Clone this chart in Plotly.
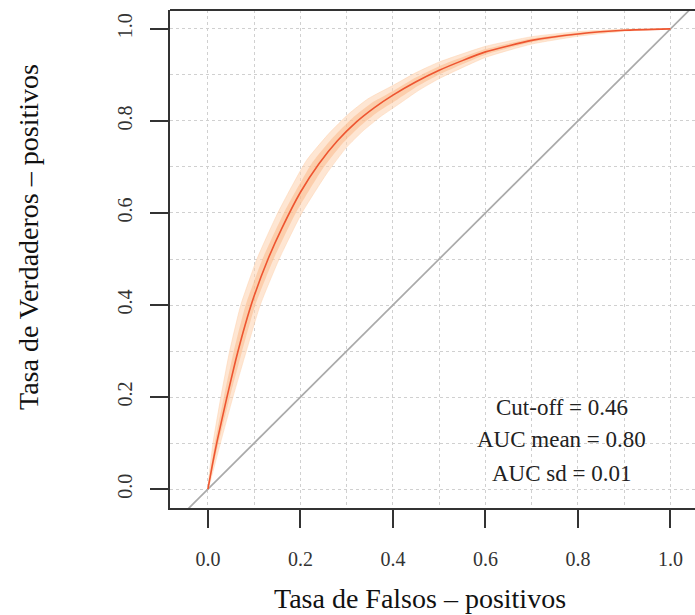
import plotly.graph_objects as go

# Mean ROC curve
mean_fpr = [0, 0.01, 0.02, 0.04, 0.06, 0.08, 0.10, 0.13, 0.16, 0.20, 0.24, 0.28, 0.32, 0.36, 0.40,
            0.45, 0.50, 0.55, 0.60, 0.70, 0.80, 0.90, 1.0]
mean_tpr = [0, 0.055, 0.105, 0.195, 0.280, 0.355, 0.420, 0.500, 0.567, 0.645, 0.707, 0.757, 0.797, 0.829, 0.856,
            0.885, 0.910, 0.931, 0.950, 0.975, 0.989, 0.997, 1.0]

# Bootstrap envelope: upper-left edge and lower-right edge
upper_fpr = [0, 0.011, 0.028, 0.047, 0.071, 0.106, 0.151, 0.213, 0.261, 0.304, 0.346, 0.40, 0.45, 0.50,
             0.60, 0.70, 0.80, 0.90, 1.0]
upper_tpr = [0, 0.10, 0.20, 0.30, 0.40, 0.50, 0.60, 0.714, 0.772, 0.815, 0.848, 0.877, 0.905, 0.928,
             0.962, 0.983, 0.994, 0.999, 1.0]
lower_fpr = [0, 0.027, 0.054, 0.083, 0.113, 0.154, 0.203, 0.257, 0.299, 0.336, 0.374, 0.412, 0.455, 0.50,
             0.60, 0.70, 0.80, 0.90, 1.0]
lower_tpr = [0, 0.10, 0.20, 0.30, 0.40, 0.50, 0.60, 0.686, 0.742, 0.779, 0.810, 0.836, 0.866, 0.892,
             0.938, 0.967, 0.984, 0.995, 1.0]

diag = [-0.2, 1.2]

tick_vals = [0.0, 0.2, 0.4, 0.6, 0.8, 1.0]
tick_text = ["0.0", "0.2", "0.4", "0.6", "0.8", "1.0"]

labels = ["Cut-off = 0.46", "AUC mean = 0.80", "AUC sd = 0.01"]
label_y = [0.178, 0.107, 0.035]
label_x = 0.765

x_title = "Tasa de Falsos – positivos"
y_title = "Tasa de Verdaderos – positivos"

SERIF = "Liberation Serif, Times New Roman, serif"

fig = go.Figure()

# diagonal reference
fig.add_trace(go.Scatter(x=diag, y=diag, mode="lines",
                         line=dict(color="#AAAAAA", width=1.7), hoverinfo="skip"))

# envelope (outer)
fig.add_trace(go.Scatter(x=upper_fpr + lower_fpr[::-1], y=upper_tpr + lower_tpr[::-1],
                         mode="lines", fill="toself", fillcolor="rgba(253,210,174,0.55)",
                         line=dict(color="rgba(253,210,174,0.5)", width=1, shape="spline", smoothing=0.5),
                         hoverinfo="skip"))
# envelope (inner, denser core)
inner_up_x, inner_up_y, inner_lo_x, inner_lo_y = [], [], [], []
for i in range(len(upper_fpr)):
    cx = (upper_fpr[i] + lower_fpr[i]) / 2
    cy = (upper_tpr[i] + lower_tpr[i]) / 2
    hx = (lower_fpr[i] - upper_fpr[i]) / 4
    hy = (upper_tpr[i] - lower_tpr[i]) / 4
    inner_up_x.append(cx - hx)
    inner_up_y.append(cy + hy)
    inner_lo_x.append(cx + hx)
    inner_lo_y.append(cy - hy)
fig.add_trace(go.Scatter(x=inner_up_x + inner_lo_x[::-1], y=inner_up_y + inner_lo_y[::-1], mode="lines",
                         fill="toself", fillcolor="rgba(250,178,125,0.45)",
                         line=dict(width=0, shape="spline", smoothing=0.5), hoverinfo="skip"))

# mean curve
fig.add_trace(go.Scatter(x=mean_fpr, y=mean_tpr, mode="lines",
                         line=dict(color="#EE5530", width=1.6, shape="spline", smoothing=0.5),
                         hoverinfo="skip"))

for t, yy in zip(labels, label_y):
    fig.add_annotation(x=label_x, y=yy, xref="x", yref="y", text=t, showarrow=False,
                       font=dict(family=SERIF, size=23, color="#222"), xanchor="center", yanchor="middle")

fig.add_annotation(x=(420 - 170) / 525, y=-(598 - 508) / 498, xref="paper", yref="paper", text=x_title,
                   showarrow=False, font=dict(family=SERIF, size=28, color="#111"),
                   xanchor="center", yanchor="middle")
fig.add_annotation(x=-(170 - 28) / 525, y=(508 - 237) / 498, xref="paper", yref="paper", text=y_title,
                   showarrow=False, textangle=-90, font=dict(family=SERIF, size=28, color="#111"),
                   xanchor="center", yanchor="middle")

# top border
fig.add_shape(type="line", xref="paper", yref="paper", x0=0, x1=1, y0=1, y1=1,
              line=dict(color="#333", width=2))

axis_common = dict(
    showgrid=True, gridcolor="#D0D0D0", griddash="dot", gridwidth=1,
    zeroline=False, showline=True, linecolor="#333", linewidth=2,
    ticks="outside", ticklen=18, tickwidth=2, tickcolor="#333",
    tickvals=tick_vals, ticktext=tick_text,
    minor=dict(dtick=0.1, tick0=0, showgrid=True, gridcolor="#D0D0D0", griddash="dot", gridwidth=1, ticks=""),
    tickfont=dict(family=SERIF, size=20, color="#333"),
)

fig.update_layout(
    width=695, height=615,
    margin=dict(l=170, r=0, t=10, b=107),
    paper_bgcolor="white", plot_bgcolor="white",
    showlegend=False,
    xaxis=dict(range=[-0.082, 1.053], ticklabelstandoff=14, **axis_common),
    yaxis=dict(range=[-0.041, 1.041], tickangle=-90, ticklabelstandoff=10, **axis_common),
)

fig.write_html("out.html")
